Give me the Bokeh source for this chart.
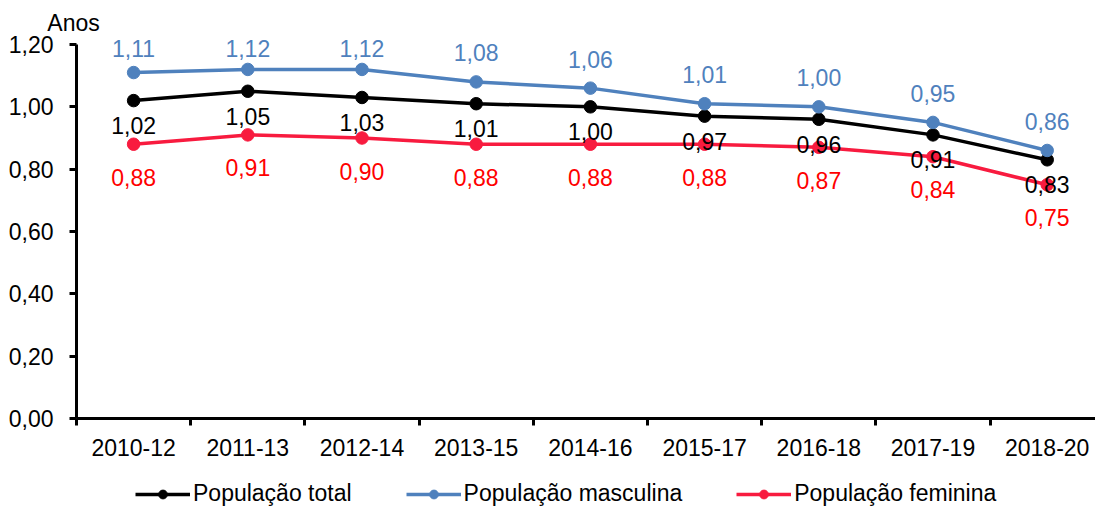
from bokeh.plotting import figure
from bokeh.models import (Range1d, FixedTicker, CustomJSTickFormatter, LabelSet, Label,
                          Legend, LegendItem, ColumnDataSource, LinearAxis)
from bokeh.core.properties import value
from bokeh.embed import file_html
from bokeh.resources import INLINE

categories = ["2010-12", "2011-13", "2012-14", "2013-15", "2014-16",
              "2015-17", "2016-18", "2017-19", "2018-20"]
total = [1.02, 1.05, 1.03, 1.01, 1.00, 0.97, 0.96, 0.91, 0.83]
masculina = [1.11, 1.12, 1.12, 1.08, 1.06, 1.01, 1.00, 0.95, 0.86]
feminina = [0.88, 0.91, 0.90, 0.88, 0.88, 0.88, 0.87, 0.84, 0.75]
y_ticks = [0.0, 0.2, 0.4, 0.6, 0.8, 1.0, 1.2]
series_names = ["População total", "População masculina", "População feminina"]
y_unit = "Anos"

FONT = "Liberation Sans"
FS = "23px"
BLACK = "#000000"
BLUE = "#4F81BD"
RED_LINE = "#F81B3F"
RED_TEXT = "#FF0000"

W, H = 1095, 510
# plot-area geometry in pixels
ax_left, ax_top, ax_bottom = 76, 44, 418
cat_w = 114.2
y_max = 1.2
ppu = (ax_bottom - ax_top) / y_max

x0 = -0.5 - ax_left / cat_w
x1 = -0.5 + (W - ax_left) / cat_w
y0 = -(H - ax_bottom) / ppu
y1 = ax_bottom / ppu

p = figure(width=W, height=H, output_backend="svg", toolbar_location=None,
           x_range=Range1d(x0, x1), y_range=Range1d(y0, y1),
           x_axis_location=None, y_axis_location=None,
           min_border_left=0, min_border_right=0, min_border_top=0, min_border_bottom=0)
p.outline_line_color = None
p.xgrid.visible = False
p.ygrid.visible = False
p.background_fill_color = "white"
p.border_fill_color = "white"

xs = list(range(len(categories)))

def fmt(v):
    return f"{v:.2f}".replace(".", ",")

series = [
    (total, BLACK, BLACK, series_names[0]),
    (masculina, BLUE, BLUE, series_names[1]),
    (feminina, RED_LINE, RED_TEXT, series_names[2]),
]

items = []
for vals, col, tcol, name in series:
    src = ColumnDataSource(dict(x=xs, y=vals))
    lr = p.line("x", "y", source=src, line_color=col, line_width=3.5)
    sr = p.scatter("x", "y", source=src, size=12.5, fill_color=col, line_color=col)
    items.append(LegendItem(label=name, renderers=[lr, sr]))

def add_labels(vals, color, offset_px, cap=None):
    ys = []
    for v in vals:
        y = v + offset_px / ppu
        if cap is not None:
            y = min(y, cap)
        ys.append(y)
    src = ColumnDataSource(dict(x=xs, y=ys, t=[fmt(v) for v in vals]))
    ls = LabelSet(x="x", y="y", text="t", source=src, text_align="center",
                  text_baseline="middle", text_color=color, text_font=value(FONT),
                  text_font_size=FS)
    p.add_layout(ls)

add_labels(masculina, BLUE, 29, cap=y_max - 4 / ppu)
add_labels(total, BLACK, -25)
add_labels(feminina, RED_TEXT, -33)

# axes at fixed locations
xa = LinearAxis(fixed_location=0, bounds=(-0.5, x1))
xa.ticker = FixedTicker(ticks=xs, minor_ticks=[i - 0.5 for i in range(len(categories) + 1)])
xa.formatter = CustomJSTickFormatter(args=dict(cats=categories),
                                     code="return cats[Math.round(tick)] || '';")
xa.axis_line_width = 3
xa.axis_line_color = BLACK
xa.major_tick_out = 0
xa.major_tick_in = 0
xa.minor_tick_out = 7
xa.minor_tick_in = 0
xa.minor_tick_line_width = 3
xa.minor_tick_line_color = BLACK
xa.major_label_text_font = FONT
xa.major_label_text_font_size = FS
xa.major_label_text_color = BLACK
xa.major_label_standoff = 13
p.add_layout(xa, "below")

ya = LinearAxis(fixed_location=-0.5, bounds=(0, y_max))
ya.ticker = FixedTicker(ticks=y_ticks, minor_ticks=[])
ya.formatter = CustomJSTickFormatter(code="return tick.toFixed(2).replace('.', ',');")
ya.axis_line_width = 3
ya.axis_line_color = BLACK
ya.major_tick_out = 7
ya.major_tick_in = 0
ya.major_tick_line_width = 3
ya.major_tick_line_color = BLACK
ya.minor_tick_out = 0
ya.minor_tick_in = 0
ya.major_label_text_font = FONT
ya.major_label_text_font_size = FS
ya.major_label_text_color = BLACK
ya.major_label_standoff = 16
p.add_layout(ya, "left")

p.add_layout(Label(x=-0.5 - 3 / cat_w, y=y_max + 22 / ppu, text=y_unit, text_align="center",
                   text_baseline="middle", text_font=FONT, text_font_size=FS,
                   text_color=BLACK))

legend = Legend(items=items, orientation="horizontal", location=(135, 3),
                glyph_width=55, glyph_height=22, label_standoff=3, spacing=54,
                padding=0, margin=0, border_line_color=None, background_fill_alpha=0,
                label_text_font=FONT, label_text_font_size=FS, label_text_color=BLACK,
                label_height=22)
p.add_layout(legend, "center")

open("out.html", "w").write(file_html(p, INLINE))
